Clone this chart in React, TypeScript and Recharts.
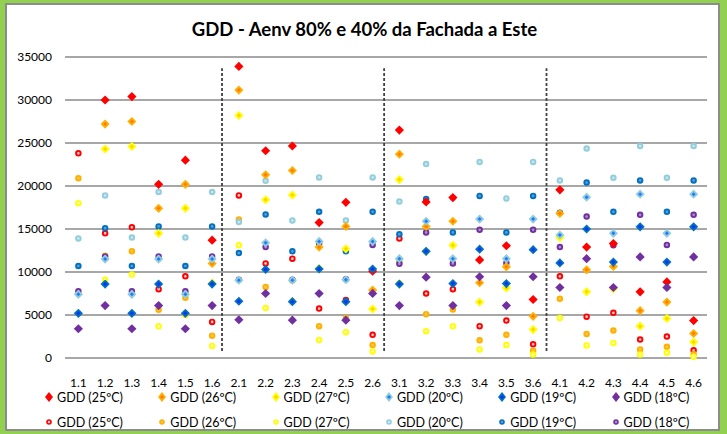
import React from 'react';
import { ScatterChart, Scatter, XAxis, YAxis, CartesianGrid, ReferenceLine } from 'recharts';

const categories = ['1.1','1.2','1.3','1.4','1.5','1.6','2.1','2.2','2.3','2.4','2.5','2.6','3.1','3.2','3.3','3.4','3.5','3.6','4.1','4.2','4.3','4.4','4.5','4.6'];
const yTicks = [0, 5000, 10000, 15000, 20000, 25000, 30000, 35000];
const separators = [6.37, 12.43, 18.5];
const separatorSpan = [800, 33700];

// Diamond series
const d25 = [null, 30000, 30400, 20200, 23000, 13700, 33900, 24100, 24650, 15750, 18100, 10100, 26500, 18150, 18650, 11400, 13050, 6800, 19550, 12900, 13300, 7700, 8850, 4350];
const d26 = [null, 27200, 27500, 17400, 20200, 11000, 31150, 21300, 21800, 12900, 15300, 7900, 23700, 15300, 15900, 8750, 10600, 4850, 16800, 10250, 10650, 5500, 6500, 2850];
const d27 = [null, 24300, 24600, 14500, 17400, 8700, 28200, 18400, 18950, 10400, 12700, 5700, 20750, 12400, 13100, 6500, 8150, 3300, 14000, 7700, 8050, 3700, 4600, 1850];
const d20 = [7400, 11500, 7400, 11500, 7400, 11500, 9050, 13400, 9050, 13550, 9100, 13550, 11550, 15900, 11550, 16150, 11550, 16150, 14300, 18700, 14500, 19050, 14500, 19050];
const d19 = [5200, 8600, 5200, 8600, 5200, 8600, 6600, 10300, 6550, 10350, 6550, 10350, 8600, 12400, 8650, 12650, 8650, 12600, 11050, 15000, 11150, 15250, 11150, 15250];
const d18 = [3400, 6100, 3400, 6100, 3400, 6100, 4450, 7500, 4400, 7500, 4400, 7500, 6100, 9400, 6100, 9450, 6100, 9450, 8200, 11550, 8200, 11750, 8200, 11750];

// Ring series
const r25 = [23800, 14500, 15200, 8000, 9500, 4200, 18900, 11000, 11550, 5750, 6750, 2700, 13900, 7500, 8000, 3700, 4350, 1600, 9500, 4800, 5250, 2150, 2500, 900];
const r26 = [20900, 11900, 12400, 5600, 7000, 2600, 16100, 8250, 9000, 3700, 4650, 1500, 11200, 5100, 5650, 2050, 2700, 850, 6900, 2800, 3200, 1000, 1300, 450];
const r27 = [18000, 9100, 9700, 3700, 5000, 1400, 13100, 5800, 6600, 2100, 3000, 750, 8700, 3100, 3700, 1000, 1500, 400, 4650, 1450, 1750, 400, 600, 150];
const r20 = [13900, 18900, 14000, 19300, 14000, 19300, 15800, 20600, 16000, 21000, 16000, 21000, 18200, 22550, 18600, 22800, 18550, 22800, 20650, 24350, 20950, 24650, 20950, 24650];
const r19 = [10700, 15100, 10700, 15300, 10700, 15300, 12200, 16700, 12400, 17000, 12400, 17000, 14400, 18500, 14600, 18850, 14600, 18850, 16900, 20400, 17000, 20650, 17000, 20650];
const r18 = [7750, 11800, 7750, 11800, 7750, 11800, 9100, 12900, 9100, 13300, 9150, 13150, 10950, 14600, 11000, 14900, 11050, 14900, 12900, 16450, 13100, 16650, 13150, 16650];

type Kind = 'diamond' | 'ring';
interface SeriesDef { key: string; name: string; values: (number | null)[]; kind: Kind; color: string; inner: string; }

const diamondSeries: SeriesDef[] = [
  { key: 'd25', name: 'GDD (25ºC)', values: d25, kind: 'diamond', color: '#FF0000', inner: '#FF0000' },
  { key: 'd26', name: 'GDD (26ºC)', values: d26, kind: 'diamond', color: '#FFB000', inner: '#FF7A00' },
  { key: 'd27', name: 'GDD (27ºC)', values: d27, kind: 'diamond', color: '#FFFF00', inner: '#FFD000' },
  { key: 'd20', name: 'GDD (20ºC)', values: d20, kind: 'diamond', color: '#92CDDC', inner: '#1E7BFF' },
  { key: 'd19', name: 'GDD (19ºC)', values: d19, kind: 'diamond', color: '#0070C0', inner: '#0030FF' },
  { key: 'd18', name: 'GDD (18ºC)', values: d18, kind: 'diamond', color: '#7030A0', inner: '#7030A0' },
];
const ringSeries: SeriesDef[] = [
  { key: 'r25', name: 'GDD (25ºC)', values: r25, kind: 'ring', color: '#FF0000', inner: '#FFD0D0' },
  { key: 'r26', name: 'GDD (26ºC)', values: r26, kind: 'ring', color: '#FFB000', inner: '#FFC840' },
  { key: 'r27', name: 'GDD (27ºC)', values: r27, kind: 'ring', color: '#FFFF00', inner: '#FFFFD0' },
  { key: 'r20', name: 'GDD (20ºC)', values: r20, kind: 'ring', color: '#92CDDC', inner: '#C8E6EE' },
  { key: 'r19', name: 'GDD (19ºC)', values: r19, kind: 'ring', color: '#0070C0', inner: '#5AA0D8' },
  { key: 'r18', name: 'GDD (18ºC)', values: r18, kind: 'ring', color: '#7030A0', inner: '#B08CD0' },
];

const FONT = 'Lato, "Open Sans", sans-serif';

function makeShape(s: SeriesDef) {
  return (props: any) => {
    const { cx, cy } = props;
    if (cx == null || cy == null) return <g />;
    if (s.kind === 'diamond') {
      const h = 4.6;
      const k = 2.0;
      return (
        <g>
          <polygon points={`${cx},${cy - h} ${cx + h},${cy} ${cx},${cy + h} ${cx - h},${cy}`} fill={s.color} />
          <polygon points={`${cx},${cy - k} ${cx + k},${cy} ${cx},${cy + k} ${cx - k},${cy}`} fill={s.inner} />
        </g>
      );
    }
    return <circle cx={cx} cy={cy} r={2.3} fill={s.inner} stroke={s.color} strokeWidth={1.9} />;
  };
}

function toData(values: (number | null)[]) {
  return values
    .map((v, i) => (v == null ? null : { x: i + 1, y: v }))
    .filter((d) => d !== null) as { x: number; y: number }[];
}

function LegendMarker({ s }: { s: SeriesDef }) {
  if (s.kind === 'diamond') {
    return (
      <svg width={10} height={12} style={{ display: 'block' }}>
        <polygon points="5,1 9,6 5,11 1,6" fill={s.color} />
        <polygon points="5,4 7,6 5,8 3,6" fill={s.inner} />
      </svg>
    );
  }
  return (
    <svg width={10} height={12} style={{ display: 'block' }}>
      <circle cx={5} cy={6} r={2} fill={s.inner} stroke={s.color} strokeWidth={1.6} />
    </svg>
  );
}

function LegendRow({ items, top }: { items: SeriesDef[]; top: number }) {
  return (
    <>
      {items.map((s, k) => (
        <div
          key={s.key}
          style={{
            position: 'absolute',
            left: 44 + k * 113.3,
            top: top,
            height: 16,
            display: 'flex',
            alignItems: 'center',
            fontFamily: FONT,
            fontSize: 12.5,
            color: '#000',
            whiteSpace: 'nowrap',
          }}
        >
          <LegendMarker s={s} />
          <span style={{ marginLeft: 3 }}>{s.name}</span>
        </div>
      ))}
    </>
  );
}

export default function App() {
  const xTicks = categories.map((_, i) => i + 1);
  const all = [...ringSeries, ...diamondSeries];
  return (
    <div style={{ position: 'relative', width: 727, height: 434, background: '#92D050', overflow: 'hidden' }}>
      <style>{`body{margin:0}`}</style>
      <div
        style={{
          position: 'absolute',
          left: 5,
          top: 3,
          width: 715,
          height: 428,
          background: '#fff',
          border: '2px solid #8c8c8c',
          boxSizing: 'border-box',
        }}
      />
      <div
        style={{
          position: 'absolute',
          left: 0,
          top: 18,
          width: 729,
          textAlign: 'center',
          fontFamily: FONT,
          fontWeight: 700,
          fontSize: 18.5,
          color: '#000',
        }}
      >
        GDD - Aenv 80% e 40% da Fachada a Este
      </div>
      <div style={{ position: 'absolute', left: 0, top: 0 }}>
        <ScatterChart width={727} height={434} margin={{ top: 57, right: 20, bottom: 52, left: 0 }}>
          <CartesianGrid vertical={false} stroke="#8a8a8a" strokeWidth={1.6} />
          <XAxis
            type="number"
            dataKey="x"
            domain={[0.5, 24.5]}
            ticks={xTicks}
            interval={0}
            tickFormatter={(v: number) => categories[v - 1]}
            axisLine={false}
            tickLine={false}
            height={24}
            tickMargin={14}
            tick={{ fill: '#000', fontSize: 12, fontFamily: FONT }}
          />
          <YAxis
            type="number"
            dataKey="y"
            domain={[0, 35000]}
            ticks={yTicks}
            interval={0}
            axisLine={false}
            tickLine={false}
            width={65}
            tickMargin={7}
            tick={{ fill: '#000', fontSize: 12, fontFamily: FONT }}
          />
          {separators.map((sx) => (
            <ReferenceLine
              key={sx}
              segment={[{ x: sx, y: separatorSpan[0] }, { x: sx, y: separatorSpan[1] }]}
              stroke="#404040"
              strokeWidth={1.8}
              strokeDasharray="3 2"
            />
          ))}
          {all.map((s) => (
            <Scatter
              key={s.key}
              name={s.name}
              data={toData(s.values)}
              fill={s.color}
              shape={makeShape(s)}
              isAnimationActive={false}
            />
          ))}
        </ScatterChart>
      </div>
      <LegendRow items={diamondSeries} top={389} />
      <LegendRow items={ringSeries} top={414} />
    </div>
  );
}
